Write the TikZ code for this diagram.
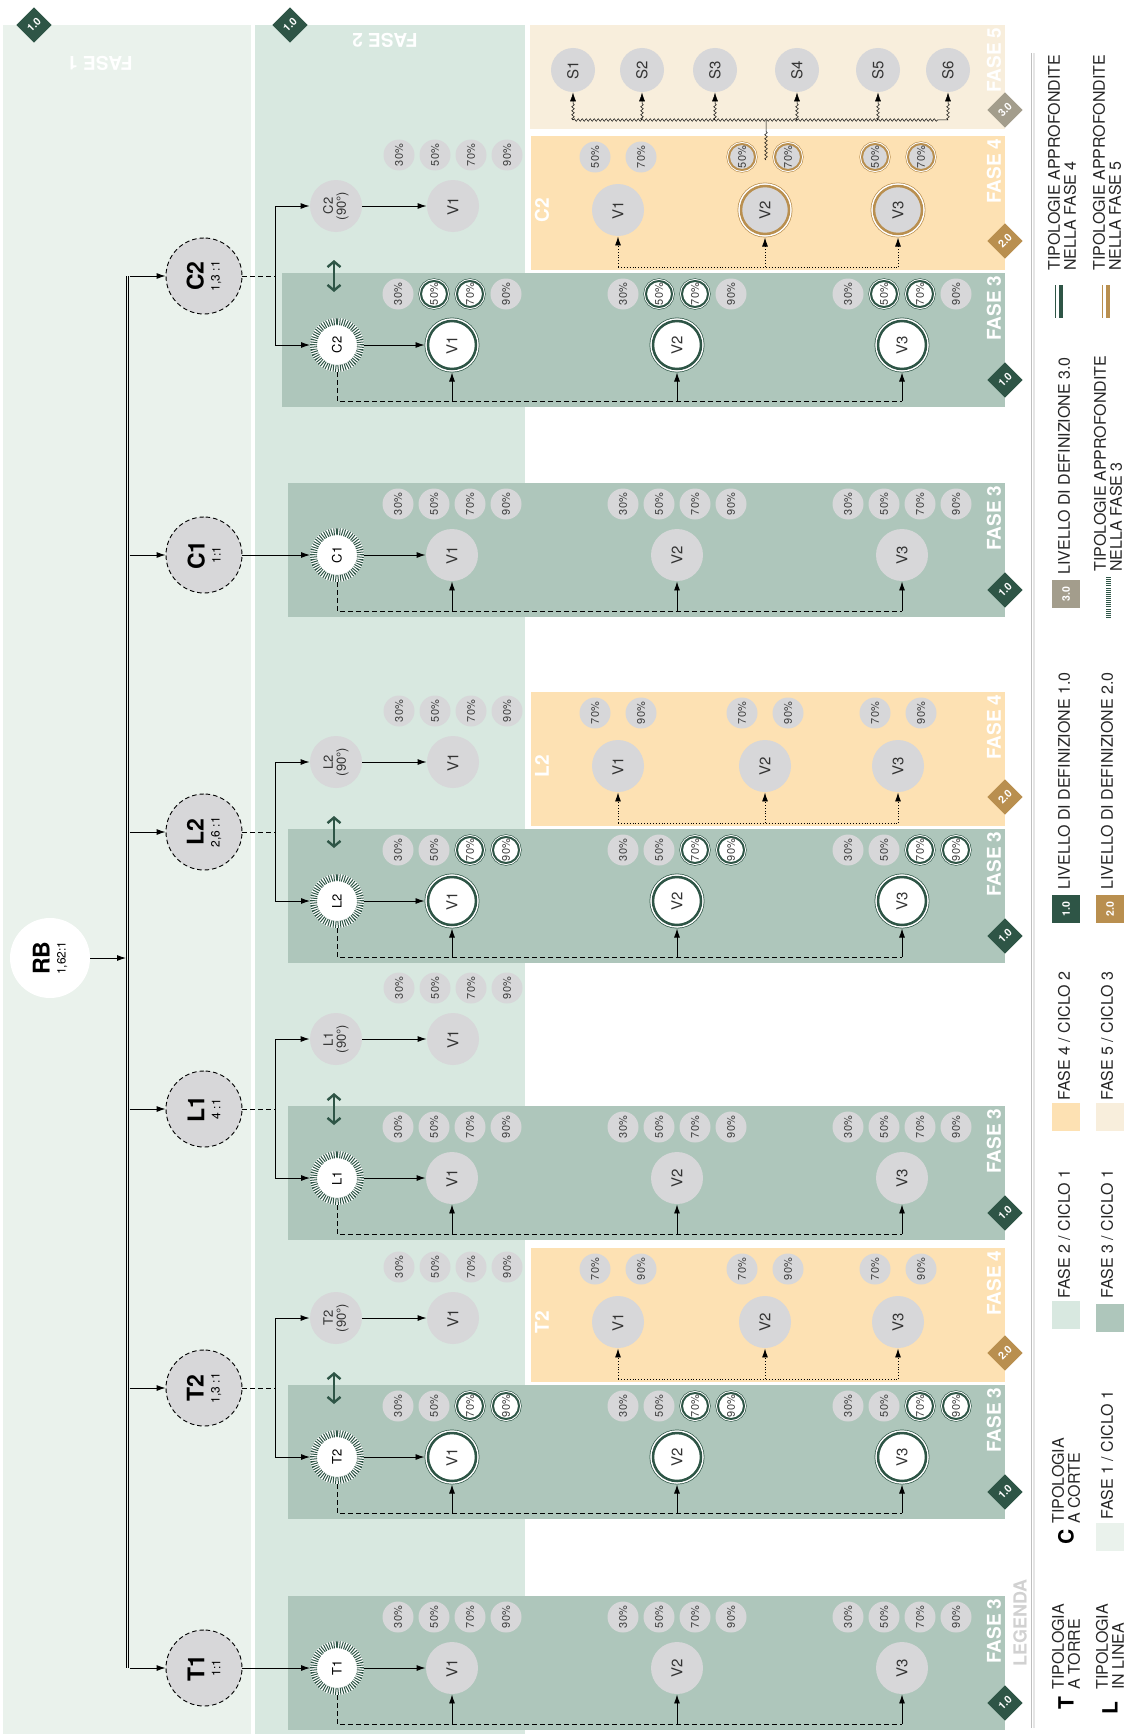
\documentclass[tikz,border=0pt]{standalone}
\usepackage{fontspec}
\setmainfont{TeX Gyre Heros}
\usetikzlibrary{arrows.meta,decorations.pathmorphing}

\definecolor{fone}{HTML}{EAF2EC}
\definecolor{ftwo}{HTML}{D8E8E0}
\definecolor{fthree}{HTML}{AEC6BB}
\definecolor{ffour}{HTML}{FDE1B3}
\definecolor{ffive}{HTML}{F8EEDC}
\definecolor{dkgreen}{HTML}{2E5546}
\definecolor{gold}{HTML}{B98F4F}
\definecolor{taupe}{HTML}{A39D8C}
\definecolor{cgrey}{HTML}{D7D7D9}

\newcommand{\fs}[1]{\fontsize{#1}{#1}\selectfont}

\tikzset{
  >={Latex[length=9pt,width=6pt]},
  dsh/.style={dash pattern=on 5pt off 3pt},
  ring/.style={draw=#1,line width=2.5pt,outer sep=3.5pt,
    preaction={draw=#1,line width=.7pt,double=white,double distance=5.5pt}},
  pring/.style={draw=#1,line width=2pt,outer sep=2.6pt,
    preaction={draw=#1,line width=.6pt,double=white,double distance=4pt}},
  vp/.style={circle,minimum size=52pt,inner sep=0pt,fill=cgrey,rotate=90,font=\fs{15},text=black!80},
  vr/.style={circle,minimum size=48pt,inner sep=0pt,fill=white,ring=dkgreen,rotate=90,font=\fs{15},text=black!80},
  vg/.style={circle,minimum size=48pt,inner sep=0pt,fill=cgrey,ring=gold,rotate=90,font=\fs{15},text=black!80},
  pp/.style={circle,minimum size=31pt,inner sep=0pt,fill=cgrey,rotate=90,font=\fs{11},text=black!75},
  pr/.style={circle,minimum size=26pt,inner sep=0pt,fill=white,pring=dkgreen,rotate=90,font=\fs{11},text=black!75},
  pg/.style={circle,minimum size=26pt,inner sep=0pt,fill=cgrey,pring=gold,rotate=90,font=\fs{11},text=black!75},
  hatch/.style={circle,minimum size=47pt,inner sep=0pt,fill=white,outer sep=3.5pt,rotate=90,font=\fs{13},
    preaction={draw=white,line width=7pt},
    postaction={draw=dkgreen,line width=7pt,dash pattern=on 1pt off 1.4pt}},
  typ/.style={circle,minimum size=76pt,inner sep=0pt,fill=cgrey,draw,line width=.9pt,
    dash pattern=on 4.5pt off 3pt,rotate=90,align=center,font=\fs{16}},
  nine/.style={circle,minimum size=52pt,inner sep=0pt,fill=cgrey,rotate=90,align=center,font=\fs{13},text=black!80},
  rbc/.style={circle,minimum size=80pt,inner sep=0pt,fill=white,rotate=90,align=center,font=\fs{16}},
  sc/.style={circle,minimum size=44pt,inner sep=0pt,fill=cgrey,rotate=90,font=\fs{15},text=black!80},
  diam/.style={rectangle,minimum size=25pt,inner sep=0pt,rotate=45,fill=#1,text=white,font=\bfseries\fs{10.5}},
  diam/.default=dkgreen,
  faselab/.style={rotate=90,anchor=east,inner sep=0pt,text=white,font=\bfseries\fs{19}},
  toplab/.style={rotate=180,inner sep=0pt,text=white,font=\bfseries\fs{19}},
  biglab/.style={rotate=90,inner sep=0pt,text=white,font=\bfseries\fs{19}},
  sq/.style={rectangle,minimum size=28pt,inner sep=0pt,rotate=90,fill=#1,text=white,font=\bfseries\fs{10.5}},
  leg/.style={rotate=90,anchor=west,align=left,inner sep=0pt,font=\fs{16},text=black!85},
  letter/.style={rotate=90,inner sep=0pt,font=\bfseries\fs{21}},
  twin/.style={dkgreen,line width=1.4pt,
    {Straight Barb[length=5.5pt,width=13pt,line width=2.4pt]}-{Straight Barb[length=5.5pt,width=13pt,line width=2.4pt]}},
  wave/.style={decorate,decoration={snake,amplitude=1.3pt,segment length=4pt,post length=10pt},line width=.5pt}
}

% name, y of row
\newcommand{\fasetwo}[2]{%
  \node[nine] at (336,#2-139)(#1n){#1\\(90°)};
  \node[vp] at (453,#2-139)(#1f){V1};
  \foreach \dx/\pc in {-54/30,-18/50,18/70,54/90}
    \node[pp] at (453+\dx,#2-190)(#1f-\pc){\pc\%};
  \path[->](#1n)edge(#1f);}

% name, y of row, left of box, style of V, styles of 30/50/70/90
\newcommand{\fasethree}[8]{%
  \fill[fthree](#3,#2-72)rectangle(1005,#2+62);
  \node[faselab] at (994,#2-70)(#1lab3){FASE 3};
  \node[diam] at (1005,#2+35)(#1d3){1.0};
  \node[hatch] at (337,#2)(#1h){#1};
  \foreach \vx/\vn in {452/1,677/2,902/3}{
    \node[#4] at (\vx,#2)(#1v\vn){V\vn};
    \foreach \dx/\pc/\ps in {-54/30/#5,-18/50/#6,18/70/#7,54/90/#8}
      \node[\ps] at (\vx+\dx,#2-51)(#1v\vn-\pc){\pc\%};
    \path[->](\vx,#2+56)edge(#1v\vn);}
  \draw[dsh](#1h)|-(902,#2+56);
  \path[->](#1h)edge(#1v1);}

% name, y of row, two percents, styles of V2/V3 and their percents
\newcommand{\fasefour}[6]{%
  \fill[ffour](531,#2-209)rectangle(1005,#2-75);
  \node[faselab] at (994,#2-207)(#1lab4){FASE 4};
  \node[diam=gold] at (1005,#2-104)(#1d4){2.0};
  \node[biglab] at (542,#2-135)(#1lab){#1};
  \foreach \vx/\vn/\vs/\ps in {618/1/vp/pp,765/2/#5/#6,898/3/#5/#6}{
    \node[\vs] at (\vx,#2-135)(#1g\vn){V\vn};
    \node[\ps] at (\vx-23,#2-188)(#1g\vn-#3){#3\%};
    \node[\ps] at (\vx+23,#2-188)(#1g\vn-#4){#4\%};
    \path[->,dotted](\vx,#2-78)edge(#1g\vn);}
  \draw[dotted](618,#2-78)--(898,#2-78);}

% name, y of circle, ratio
\newcommand{\typology}[3]{%
  \node[typ] at (204,#2)(#1t){{\bfseries\fs{23}#1}\\{\fs{12}#3}};
  \draw[->](129.5,#2)--(#1t);}

\newcommand{\branch}[2]{%
  \coordinate (#1s) at (275,#2);
  \draw[dsh](#1t)--(#1s);
  \draw[->](#1s)|-(#1n);
  \draw[->](#1s)|-(#1h);
  \draw[twin](334,#2-16)--(334,#2+16);}

\begin{document}
\begin{tikzpicture}[x=1pt,y=-1pt,line width=.9pt]
\useasboundingbox (0,0) rectangle (1133,1734);
\fill[fone](3,25)rectangle(251,1734);
\fill[ftwo](255,25)rectangle(525,1734);
\fill[ffive](530,25)rectangle(1005,129);
\node[toplab] at (100,63)(f1lab){FASE 1};
\node[toplab] at (385,40)(f2lab){FASE 2};
\node[diam] at (34,25)(d1){1.0};
\node[diam] at (290,25)(d2){1.0};
\node[faselab] at (994,27)(f5lab){FASE 5};
\node[diam=taupe] at (1005,110)(d5){3.0};

\fasetwo{C2}{345}
\fasethree{C2}{345}{282}{vr}{pp}{pr}{pr}{pp}
\fasefour{C2}{345}{50}{70}{vg}{pg}
\typology{C2}{276}{1,3 :1}
\branch{C2}{276}

\foreach \sx [count=\k] in {573,642,715,797,878,948}{
  \node[sc] at (\sx,70)(S\k){S\k};
  \draw[wave,->](\sx,120)--(S\k);}
\draw[wave](573,120)--(948,120);
\draw[wave](766,160)--(766,120);

\fasethree{C1}{555}{288}{vp}{pp}{pp}{pp}{pp}
\typology{C1}{555}{1:1}
\path[->](C1t)edge(C1h);

\fasetwo{L2}{901}
\fasethree{L2}{901}{288}{vr}{pp}{pp}{pr}{pr}
\fasefour{L2}{901}{70}{90}{vp}{pp}
\typology{L2}{832}{2,6 :1}
\branch{L2}{832}

\fasetwo{L1}{1178}
\fasethree{L1}{1178}{288}{vp}{pp}{pp}{pp}{pp}
\typology{L1}{1109}{4 :1}
\branch{L1}{1109}

\fasetwo{T2}{1457}
\fasethree{T2}{1457}{288}{vr}{pp}{pp}{pr}{pr}
\fasefour{T2}{1457}{70}{90}{vp}{pp}
\typology{T2}{1388}{1,3 :1}
\branch{T2}{1388}

\fasethree{T1}{1668}{288}{vp}{pp}{pp}{pp}{pp}
\typology{T1}{1668}{1:1}
\path[->](T1t)edge(T1h);

\draw[double=fone,double distance=1.8pt,line width=.7pt](127.5,276)--(127.5,1668);
\node[rbc] at (50,958)(RB){{\bfseries\fs{23}RB}\\{\fs{12}1,62:1}};
\draw[->](RB)--(126,958);

\draw[black!25,line width=1pt](1031,53)--(1031,1728);
\draw[black!10,line width=1.5pt](1034,53)--(1034,1728);
\node[leg,text=black!18,font=\bfseries\fs{18}] at (1020,1667)(lgd){LEGENDA};

\node[letter] at (1066,1703)(lgT){T};
\node[leg] at (1066,1690)(lgTt){TIPOLOGIA\\A TORRE};
\node[letter] at (1066,1537)(lgC){C};
\node[leg] at (1066,1524)(lgCt){TIPOLOGIA\\A CORTE};
\node[sq=ftwo] at (1066,1315)(lg2){};
\node[leg] at (1064,1299)(lg2t){FASE 2 / CICLO 1};
\node[sq=ffour] at (1066,1117)(lg4){};
\node[leg] at (1064,1101)(lg4t){FASE 4 / CICLO 2};
\node[sq=dkgreen] at (1066,909)(lgA){1.0};
\node[leg] at (1064,890)(lgAt){LIVELLO DI DEFINIZIONE 1.0};
\node[sq=taupe] at (1066,594)(lgG){3.0};
\node[leg] at (1064,575)(lgGt){LIVELLO DI DEFINIZIONE 3.0};
\draw[dkgreen,line width=1pt](1055,285)--(1055,318);
\draw[dkgreen,line width=3.5pt](1061,285)--(1061,318);
\node[leg] at (1062,271)(lgRt){TIPOLOGIE APPROFONDITE\\NELLA FASE 4};

\node[letter] at (1110,1708)(lgL){L};
\node[leg] at (1110,1690)(lgLt){TIPOLOGIA\\IN LINEA};
\node[sq=fone] at (1110,1537)(lg1){};
\node[leg] at (1107,1520)(lg1t){FASE 1 / CICLO 1};
\node[sq=fthree] at (1110,1318)(lg3){};
\node[leg] at (1107,1299)(lg3t){FASE 3 / CICLO 1};
\node[sq=ffive] at (1110,1117)(lg5){};
\node[leg] at (1107,1101)(lg5t){FASE 5 / CICLO 3};
\node[sq=gold] at (1110,909)(lgB){2.0};
\node[leg] at (1107,890)(lgBt){LIVELLO DI DEFINIZIONE 2.0};
\draw[dkgreen,line width=5pt,dash pattern=on .7pt off 1.4pt](1108,577)--(1108,617);
\node[leg] at (1108,572)(lgHt){TIPOLOGIE APPROFONDITE\\NELLA FASE 3};
\draw[gold,line width=1pt](1102,285)--(1102,318);
\draw[gold,line width=3.5pt](1108,285)--(1108,318);
\node[leg] at (1107,271)(lgSt){TIPOLOGIE APPROFONDITE\\NELLA FASE 5};
\end{tikzpicture}
\end{document}
